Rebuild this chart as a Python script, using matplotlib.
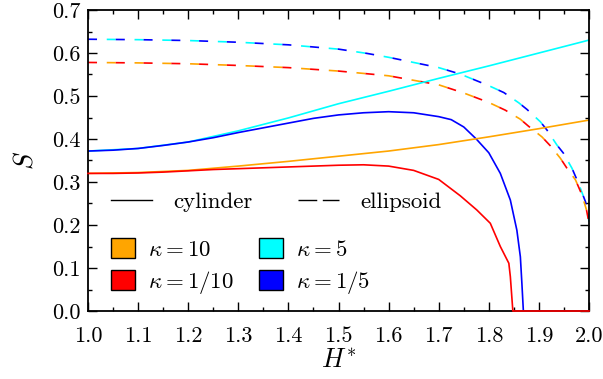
import matplotlib
matplotlib.use("Agg")
import matplotlib.pyplot as plt
from matplotlib.lines import Line2D
from matplotlib.patches import Patch
from matplotlib.ticker import MultipleLocator, FormatStrFormatter

plt.rcParams['font.family'] = 'serif'
plt.rcParams['font.serif'] = ['cmr10']
plt.rcParams['mathtext.fontset'] = 'cm'
plt.rcParams['axes.formatter.use_mathtext'] = True
plt.rcParams['lines.scale_dashes'] = False

# ---- data ----
H_grid = [1.0, 1.1, 1.2, 1.3, 1.4, 1.5, 1.6, 1.7, 1.8, 1.9, 2.0]
cyl_k10 = [0.320, 0.322, 0.327, 0.337, 0.348, 0.360, 0.372, 0.387, 0.405, 0.424, 0.444]
cyl_k5 = [0.372, 0.378, 0.393, 0.419, 0.449, 0.482, 0.511, 0.541, 0.570, 0.600, 0.630]

H_k1_5 = [1.0, 1.05, 1.1, 1.15, 1.2, 1.25, 1.3, 1.35, 1.4, 1.45, 1.5, 1.55, 1.6, 1.65,
          1.7, 1.725, 1.75, 1.775, 1.8, 1.823, 1.843, 1.856, 1.863, 1.866, 1.869, 2.0]
cyl_k1_5 = [0.372, 0.374, 0.378, 0.385, 0.393, 0.403, 0.415, 0.426, 0.437, 0.448, 0.456,
            0.461, 0.4635, 0.461, 0.452, 0.445, 0.428, 0.400, 0.368, 0.320, 0.258, 0.188,
            0.126, 0.065, 0.0, 0.0]

H_k1_10 = [1.0, 1.05, 1.1, 1.15, 1.2, 1.25, 1.3, 1.35, 1.4, 1.45, 1.5, 1.55, 1.6, 1.65,
           1.7, 1.743, 1.776, 1.803, 1.823, 1.840, 1.843, 1.848, 2.0]
cyl_k1_10 = [0.320, 0.320, 0.321, 0.323, 0.326, 0.329, 0.331, 0.333, 0.335, 0.337, 0.339,
             0.340, 0.337, 0.327, 0.306, 0.268, 0.235, 0.204, 0.150, 0.111, 0.080, 0.0, 0.0]

H_ell5 = [1.0, 1.1, 1.2, 1.3, 1.4, 1.5, 1.557, 1.6, 1.7, 1.743, 1.8, 1.830, 1.860, 1.876,
          1.903, 1.916, 1.936, 1.949, 1.966, 1.979, 1.993, 2.0]
ell_k5 = [0.632, 0.631, 0.629, 0.625, 0.619, 0.609, 0.599, 0.590, 0.566, 0.551, 0.524, 0.508,
          0.484, 0.469, 0.440, 0.421, 0.386, 0.367, 0.332, 0.297, 0.254, 0.208]

H_ell10 = [1.0, 1.1, 1.2, 1.3, 1.4, 1.5, 1.6, 1.7, 1.75, 1.8, 1.833, 1.863, 1.879, 1.906,
           1.923, 1.943, 1.956, 1.973, 1.986, 1.995, 2.0]
ell_k10 = [0.578, 0.577, 0.575, 0.571, 0.566, 0.558, 0.547, 0.526, 0.507, 0.485, 0.467, 0.446,
           0.430, 0.405, 0.384, 0.355, 0.332, 0.305, 0.270, 0.235, 0.205]

kappa_labels = [r'$\kappa = 10$', r'$\kappa = 1/10$', r'$\kappa = 5$', r'$\kappa = 1/5$']
c_orange, c_red, c_cyan, c_blue = 'orange', 'red', 'cyan', 'blue'

fig = plt.figure(figsize=(6.03, 3.79), dpi=100)
ax = fig.add_axes([88/603, 1-311/379, 501/603, 301/379])

lw = 1.2
on, off = 6.5, 13.5
ax.plot(H_ell5, ell_k5, color=c_cyan, lw=lw, linestyle=(on, (on, off)))
ax.plot(H_ell5, ell_k5, color=c_blue, lw=lw, linestyle=(0, (on, off)))
ax.plot(H_ell10, ell_k10, color=c_orange, lw=lw, linestyle=(on, (on, off)))
ax.plot(H_ell10, ell_k10, color=c_red, lw=lw, linestyle=(0, (on, off)))

ax.plot(H_grid, cyl_k5, color=c_cyan, lw=lw)
ax.plot(H_k1_5, cyl_k1_5, color=c_blue, lw=lw)
ax.plot(H_grid, cyl_k10, color=c_orange, lw=lw)
ax.plot(H_k1_10, cyl_k1_10, color=c_red, lw=lw, clip_on=False, zorder=3)

ax.set_xlim(1.0, 2.0)
ax.set_ylim(0.0, 0.7)
ax.xaxis.set_major_locator(MultipleLocator(0.1))
ax.xaxis.set_minor_locator(MultipleLocator(0.05))
ax.yaxis.set_major_locator(MultipleLocator(0.1))
ax.yaxis.set_minor_locator(MultipleLocator(0.05))
ax.xaxis.set_major_formatter(FormatStrFormatter('%.1f'))
ax.yaxis.set_major_formatter(FormatStrFormatter('%.1f'))
ax.tick_params(which='both', direction='in', top=True, right=True, labelsize=16, width=1.0)
ax.tick_params(axis='x', which='major', length=6.5, pad=11)
ax.tick_params(axis='y', which='major', length=6.5, pad=5)
ax.tick_params(which='minor', length=3)
for s in ax.spines.values():
    s.set_linewidth(1.3)

ax.set_xlabel(r'$H^{*}$', fontsize=19, labelpad=2)
ax.set_ylabel(r'$S$', fontsize=19, labelpad=11)

fs = 16.5
style_handles = [Line2D([], [], color='black', lw=1.0),
                 Line2D([], [], color='black', lw=1.0, linestyle=(0, (13.5, 4)))]
leg1 = ax.legend(style_handles, ['cylinder', 'ellipsoid'], ncol=2, frameon=False,
                 loc='center left', bbox_to_anchor=(0.046, 0.362), fontsize=fs,
                 handlelength=1.8, handletextpad=0.9, columnspacing=2.0,
                 borderpad=0.0, borderaxespad=0.0)
ax.add_artist(leg1)

color_handles = [Patch(facecolor=c, edgecolor='black', linewidth=1.0)
                 for c in [c_orange, c_red, c_cyan, c_blue]]
ax.legend(color_handles, kappa_labels, ncol=2, frameon=False,
          loc='center left', bbox_to_anchor=(0.046, 0.147), fontsize=fs,
          handlelength=1.05, handleheight=0.96, handletextpad=0.57,
          columnspacing=1.1, labelspacing=0.4,
          borderpad=0.0, borderaxespad=0.0)

fig.savefig('out.png', dpi=100)
